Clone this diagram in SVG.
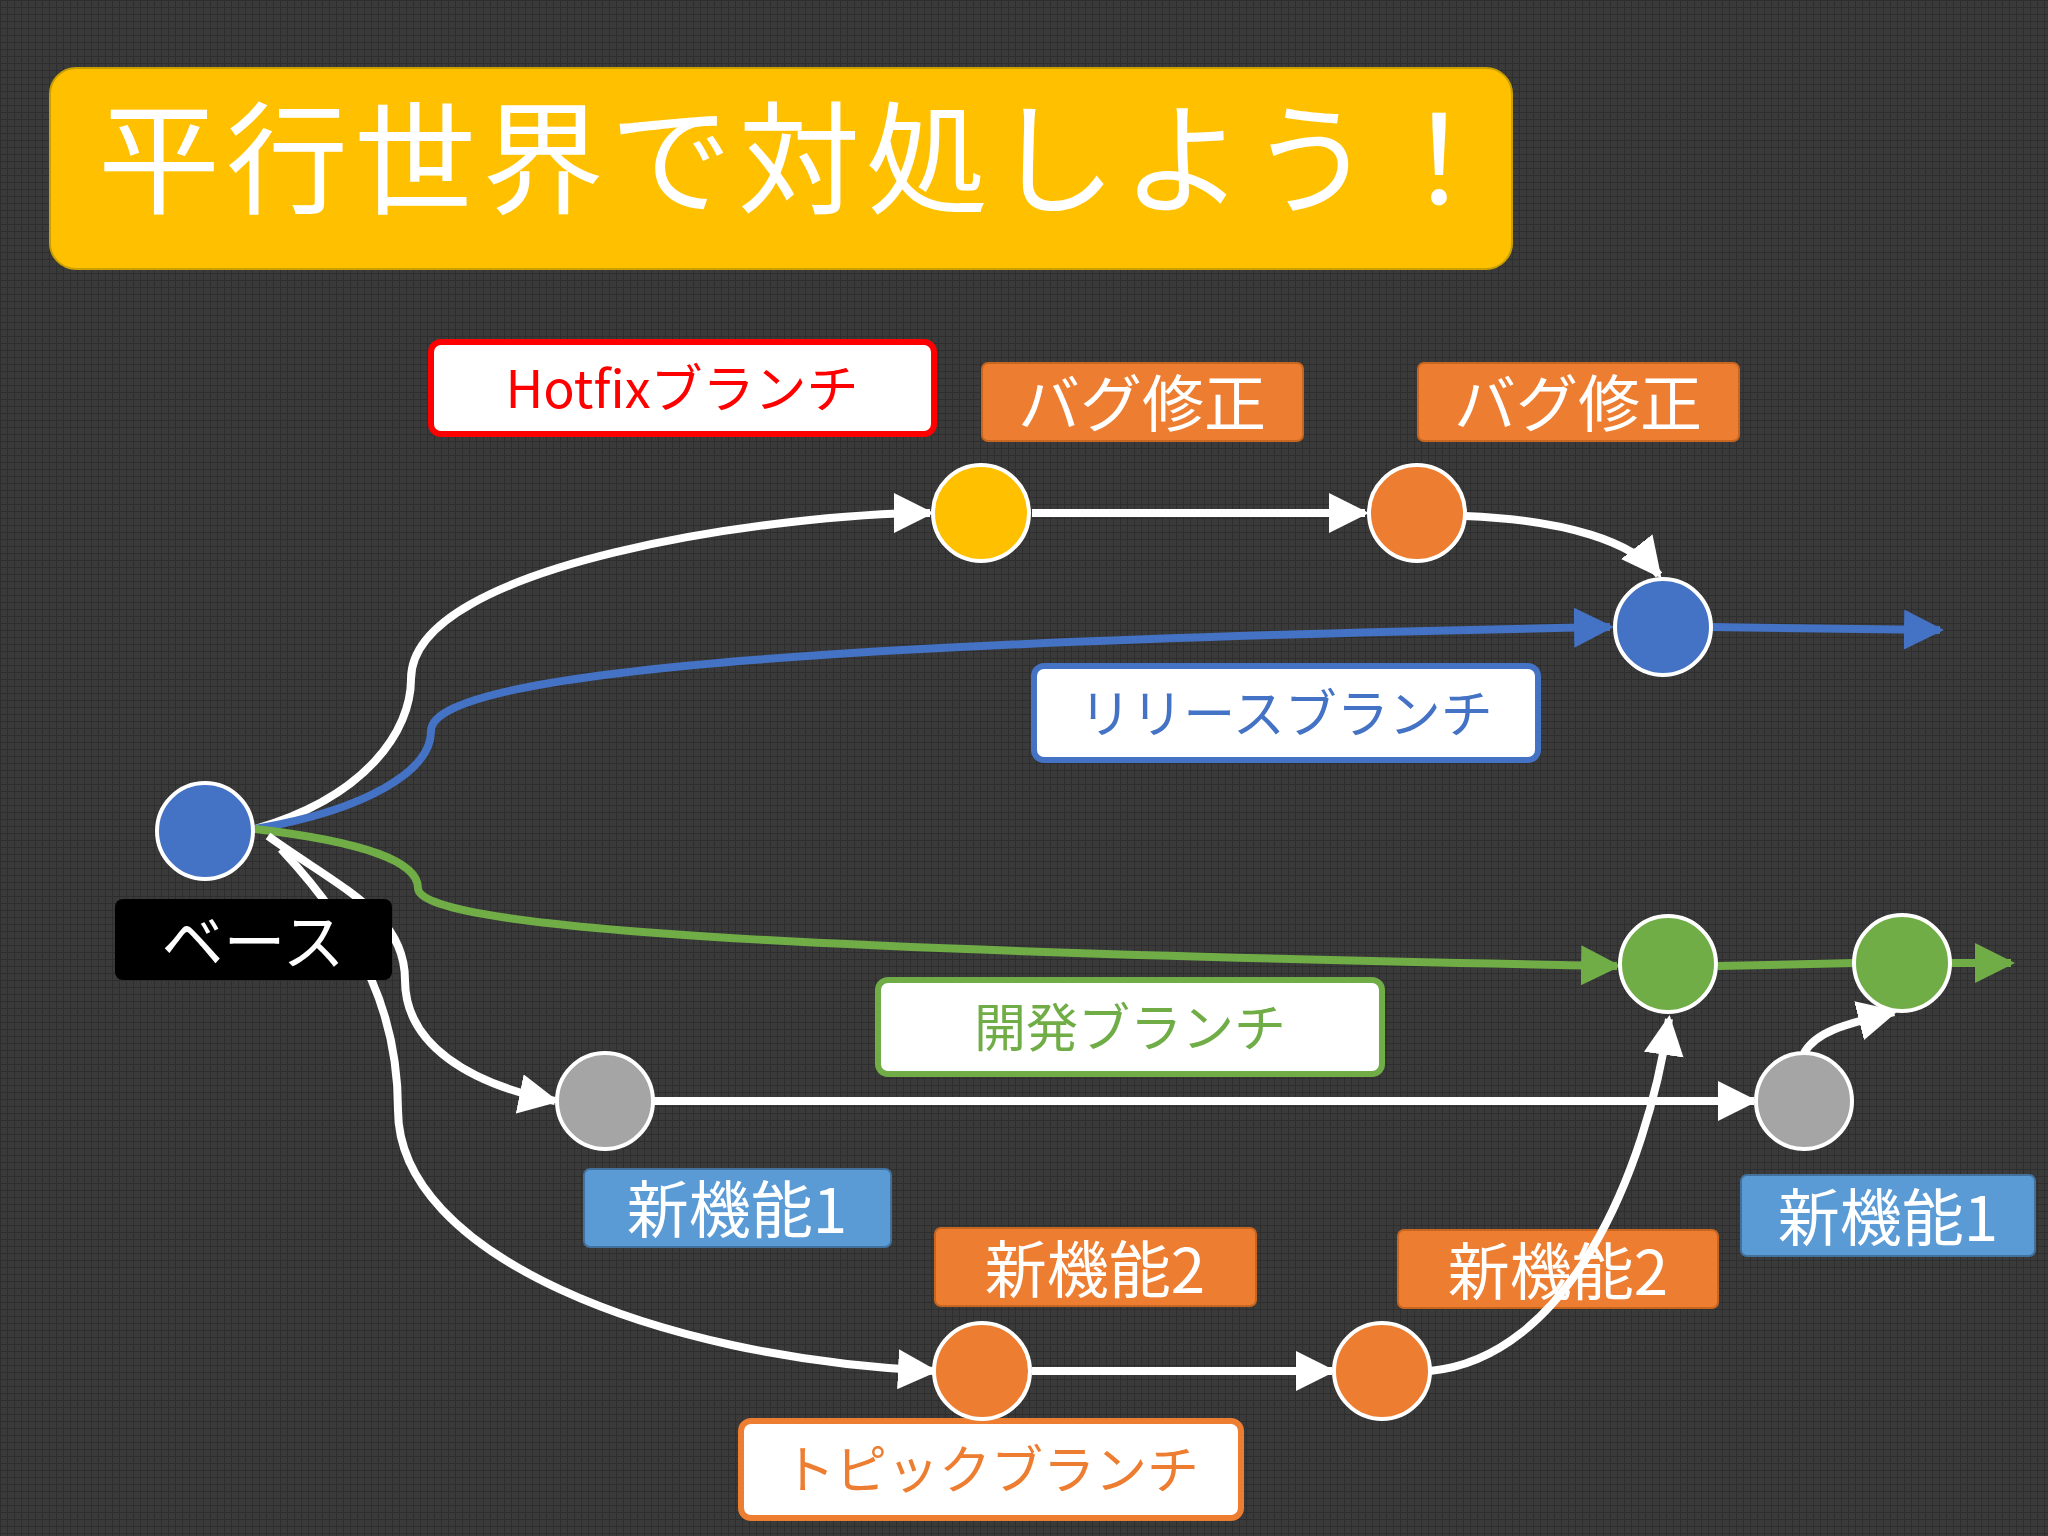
<svg xmlns="http://www.w3.org/2000/svg" width="2048" height="1536" viewBox="0 0 2048 1536">
<defs>
<pattern id="grid" width="7" height="7" patternUnits="userSpaceOnUse"><rect width="7" height="7" fill="#3a3a3a"/><path d="M0 0.5H7M0.5 0V7" stroke="#2e2e2e" stroke-width="1"/></pattern>
<marker id="aw" viewBox="0 0 10 10" refX="9" refY="5" markerWidth="5" markerHeight="5" orient="auto" markerUnits="strokeWidth"><path d="M0 0L10 5L0 10z" fill="#fff"/></marker>
<marker id="ab" viewBox="0 0 10 10" refX="9" refY="5" markerWidth="5" markerHeight="5" orient="auto" markerUnits="strokeWidth"><path d="M0 0L10 5L0 10z" fill="#4472C4"/></marker>
<marker id="ag" viewBox="0 0 10 10" refX="9" refY="5" markerWidth="5" markerHeight="5" orient="auto" markerUnits="strokeWidth"><path d="M0 0L10 5L0 10z" fill="#70AD47"/></marker>
</defs>
<style>
text{font-family:"Noto Sans CJK JP","Liberation Sans",sans-serif;text-anchor:middle;dominant-baseline:central}
.w{fill:none;stroke:#fff;stroke-width:8}
.n{stroke:#fff;stroke-width:4}
.or{fill:#ED7D31;stroke:#c8651f;stroke-width:2}
.bl{fill:#5B9BD5;stroke:#41719C;stroke-width:2}
.lt{fill:#fff;font-size:62px}
.ol{fill:#fff;stroke-width:6}
</style>
<rect width="2048" height="1536" fill="url(#grid)"/>
<g id="title"><rect x="50" y="68" width="1462" height="201" rx="26" fill="#FFC000" stroke="#C9A000" stroke-width="2"/><text x="98" y="150" style="text-anchor:start;font-size:122px;fill:#fff;letter-spacing:6px">平行世界で対処しよう！</text></g>
<g id="lbl-hotfix"><rect x="431" y="342" width="503" height="92" rx="10" class="ol" stroke="#FF0000"/><text x="682" y="385" fill="#FF0000" font-size="52">Hotfixブランチ</text></g>
<g id="lbl-bug1"><rect x="982" y="363" width="321" height="78" rx="6" class="or"/><text x="1142" y="400" class="lt">バグ修正</text></g>
<g id="lbl-bug2"><rect x="1418" y="363" width="321" height="78" rx="6" class="or"/><text x="1578" y="400" class="lt">バグ修正</text></g>
<g id="lbl-release"><rect x="1034" y="666" width="504" height="94" rx="10" class="ol" stroke="#4472C4"/><text x="1286" y="710" fill="#4472C4" font-size="52">リリースブランチ</text></g>
<g id="lbl-dev"><rect x="878" y="980" width="504" height="94" rx="10" class="ol" stroke="#70AD47"/><text x="1130" y="1024" fill="#70AD47" font-size="52">開発ブランチ</text></g>
<g id="lbl-f1a"><rect x="584" y="1169" width="307" height="78" rx="6" class="bl"/><text x="737" y="1206" class="lt">新機能1</text></g>
<g id="lbl-f1b"><rect x="1741" y="1175" width="294" height="81" rx="6" class="bl"/><text x="1888" y="1214" class="lt">新機能1</text></g>
<g id="lbl-f2a"><rect x="935" y="1228" width="321" height="78" rx="6" class="or"/><text x="1095" y="1266" class="lt">新機能2</text></g>
<g id="lbl-f2b"><rect x="1398" y="1230" width="320" height="78" rx="6" class="or"/><text x="1558" y="1268" class="lt">新機能2</text></g>
<g id="lbl-topic"><rect x="741" y="1421" width="500" height="97" rx="10" class="ol" stroke="#ED7D31"/><text x="991" y="1466" fill="#ED7D31" font-size="52">トピックブランチ</text></g>
<g id="connectors">
<path class="w" d="M255,829 C366,797 411,731 411,679 C411,562 784,513 930,513" marker-end="url(#aw)"/>
<path class="w" d="M1032,513 H1365" marker-end="url(#aw)"/>
<path class="w" d="M1465,516 C1567,520 1633,542 1659,575" marker-end="url(#aw)"/>
<path d="M255,829 C366,810 431,771 431,731 C431,666 914,640 1610,627" fill="none" stroke="#4472C4" stroke-width="8" marker-end="url(#ab)"/>
<path d="M1711,627 L1940,630" fill="none" stroke="#4472C4" stroke-width="8" marker-end="url(#ab)"/>
<path d="M255,829 C366,842 418,862 418,888 C418,934 914,953 1617,966" fill="none" stroke="#70AD47" stroke-width="8" marker-end="url(#ag)"/>
<path d="M1718,966 L1855,963" fill="none" stroke="#70AD47" stroke-width="8"/>
<path d="M1951,963 L2011,963" fill="none" stroke="#70AD47" stroke-width="8" marker-end="url(#ag)"/>
<path class="w" d="M268,836 C340,888 405,914 405,980 C405,1045 470,1084 555,1101" marker-end="url(#aw)"/>
<path class="w" d="M653,1101 H1754" marker-end="url(#aw)"/>
<path class="w" d="M1804,1053 C1816,1032 1842,1025 1894,1012" marker-end="url(#aw)"/>
<path class="w" d="M281,849 C366,940 398,1019 398,1110 C398,1254 653,1358 934,1371" marker-end="url(#aw)"/>
<path class="w" d="M1032,1371 H1332" marker-end="url(#aw)"/>
<path class="w" d="M1430,1371 C1567,1358 1646,1175 1669,1019" marker-end="url(#aw)"/>
</g>
<g id="lbl-base"><rect x="115" y="899" width="277" height="81" rx="8" fill="#000"/><text x="253" y="938" class="lt">ベース</text></g>
<g id="n-base"><circle cx="205" cy="831" r="48" fill="#4472C4" class="n"/></g>
<g id="n-hotfix"><circle cx="981" cy="513" r="48" fill="#FFC000" class="n"/></g>
<g id="n-bug"><circle cx="1417" cy="513" r="48" fill="#ED7D31" class="n"/></g>
<g id="n-release"><circle cx="1663" cy="627" r="48" fill="#4472C4" class="n"/></g>
<g id="n-dev1"><circle cx="1668" cy="964" r="48" fill="#70AD47" class="n"/></g>
<g id="n-dev2"><circle cx="1902" cy="963" r="48" fill="#70AD47" class="n"/></g>
<g id="n-f1a"><circle cx="605" cy="1101" r="48" fill="#A5A5A5" class="n"/></g>
<g id="n-f1b"><circle cx="1804" cy="1101" r="48" fill="#A5A5A5" class="n"/></g>
<g id="n-f2a"><circle cx="982" cy="1371" r="48" fill="#ED7D31" class="n"/></g>
<g id="n-f2b"><circle cx="1382" cy="1371" r="48" fill="#ED7D31" class="n"/></g>
</svg>
